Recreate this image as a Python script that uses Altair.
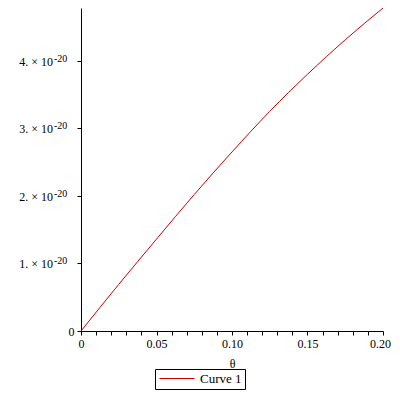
import altair as alt
import pandas as pd

theta = [0.0, 0.025, 0.05, 0.075, 0.10, 0.125, 0.15, 0.175, 0.20]
values_e20 = [0.0, 0.69, 1.36, 2.02, 2.65, 3.25, 3.80, 4.31, 4.78]
series = ["Curve 1"] * len(theta)

x_ticks = [round(i * 0.01, 2) for i in range(21)]
y_ticks = [i * 0.5e-20 for i in range(10)]
y_label_mantissa = [1, 2, 3, 4]
y_label_text = ["1. × 10", "2. × 10", "3. × 10", "4. × 10"]
y_label_exp = ["-20", "-20", "-20", "-20"]

df = pd.DataFrame({
    "theta": theta,
    "y": [v * 1e-20 for v in values_e20],
    "series": series,
})
lab = pd.DataFrame({
    "y": [m * 1e-20 for m in y_label_mantissa],
    "base": y_label_text,
    "exp": y_label_exp,
})

FONT = "Liberation Serif"

x_label_expr = (
    "datum.value == 0 ? '0' : "
    "(round(datum.value * 100) % 5 == 0 ? format(datum.value, '.2f') : '')"
)

y_scale = alt.Scale(domain=[0, 4.78e-20], nice=False, zero=True)

line = alt.Chart(df).mark_line(strokeWidth=1, interpolate="monotone").encode(
    x=alt.X(
        "theta:Q",
        scale=alt.Scale(domain=[0, 0.2], nice=False, zero=False),
        axis=alt.Axis(
            title="θ",
            values=x_ticks,
            labelExpr=x_label_expr,
            labelFont=FONT,
            labelFontSize=12,
            labelColor="#000000",
            labelOverlap=False,
            labelFlush=False,
            labelPadding=3,
            labelOffset={"condition": {"test": "datum.value >= 0.199", "value": -3}, "value": 0},
            tickSize=4,
            tickColor="#000000",
            domainColor="#000000",
            grid=False,
            titleFont=FONT,
            titleFontSize=12,
            titleFontWeight="normal",
            titleColor="#000000",
            titlePadding=9,
        ),
    ),
    y=alt.Y(
        "y:Q",
        scale=y_scale,
        axis=alt.Axis(
            title=None,
            values=y_ticks,
            labelExpr="datum.value == 0 ? '0' : ''",
            labelFont=FONT,
            labelFontSize=12,
            labelColor="#000000",
            labelOverlap=False,
            labelFlush=False,
            labelPadding=3,
            tickSize=4,
            tickColor="#000000",
            domainColor="#000000",
            grid=False,
        ),
    ),
    color=alt.Color(
        "series:N",
        scale=alt.Scale(domain=["Curve 1"], range=["#cc0000"]),
        legend=alt.Legend(
            title=None,
            orient="none",
            legendX=74,
            legendY=361,
            strokeColor="#000000",
            fillColor="#ffffff",
            padding=3,
            symbolType="M-1,0L6,0",
            symbolSize=100,
            symbolStrokeWidth=1,
            labelOffset=29,
            labelFont=FONT,
            labelFontSize=13,
            labelColor="#000000",
            cornerRadius=0,
        ),
    ),
)

base_labels = alt.Chart(lab).mark_text(
    font=FONT, fontSize=12, align="right", baseline="alphabetic", dy=5, color="#000000"
).encode(
    x=alt.value(-28),
    y=alt.Y("y:Q", scale=y_scale),
    text="base:N",
)

exp_labels = alt.Chart(lab).mark_text(
    font=FONT, fontSize=10, align="left", baseline="alphabetic", dy=1, color="#000000"
).encode(
    x=alt.value(-27),
    y=alt.Y("y:Q", scale=y_scale),
    text="exp:N",
)

chart = alt.layer(line, base_labels, exp_labels).properties(
    width=302,
    height=323,
    autosize=alt.AutoSizeParams(type="none"),
    padding={"left": 73, "top": 0, "right": 9, "bottom": 60},
).configure_view(
    stroke=None
).configure_axis(
    domainWidth=1,
    tickWidth=1,
)

chart.save("out.html", embed_options={"renderer": "svg", "actions": False})
